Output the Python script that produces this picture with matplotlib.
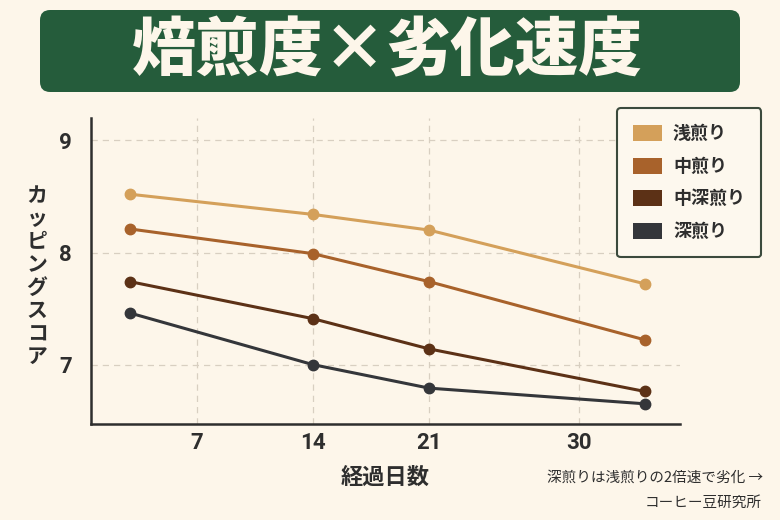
import matplotlib
matplotlib.use("Agg")
import matplotlib.pyplot as plt
from matplotlib.patches import FancyBboxPatch, Patch

plt.rcParams['font.family'] = ['Noto Sans CJK JP', 'DejaVu Sans']

# data
days = [3, 14, 21, 34]
roasts = ["浅煎り", "中煎り", "中深煎り", "深煎り"]
scores = {
    "浅煎り": [8.52, 8.34, 8.20, 7.72],
    "中煎り": [8.21, 7.99, 7.74, 7.22],
    "中深煎り": [7.74, 7.41, 7.14, 6.76],
    "深煎り": [7.46, 7.00, 6.79, 6.65],
}
xticks = [7, 14, 21, 30]
yticks = [7, 8, 9]

colors = {"浅煎り": "#d4a05a", "中煎り": "#a8622b", "中深煎り": "#5c3116", "深煎り": "#34363a"}
bg = "#fdf6ea"
green = "#255c3b"
ink = "#2e2e2e"

fig = plt.figure(figsize=(7.8, 5.2), dpi=100, facecolor=bg)

# title banner
banner = FancyBboxPatch((40 / 780, 1 - 92 / 520), 700 / 780, 82 / 520,
                        boxstyle="round,pad=0,rounding_size=0.013",
                        mutation_aspect=1.5, transform=fig.transFigure,
                        facecolor=green, edgecolor="none")
fig.patches.append(banner)
fig.text(0.497, 1 - 52 / 520, "焙煎度×劣化速度", ha="center", va="center",
         fontsize=46, fontweight="heavy", color=bg)

ax = fig.add_axes([91 / 780, 96 / 520, 589 / 780, 306 / 520])
ax.set_facecolor(bg)

for r in roasts:
    ax.plot(days, scores[r], color=colors[r], lw=2.2, marker="o", ms=7.5,
            solid_capstyle="round", zorder=3)

ax.set_xlim(0.65, 36.1)
ax.set_ylim(6.47, 9.2)
ax.set_xticks(xticks)
ax.set_yticks(yticks)
ax.grid(True, linestyle=(0, (5, 4)), color="#d8cfc1", lw=0.9)
ax.tick_params(length=0, labelsize=16, colors=ink)
for lab in ax.get_xticklabels() + ax.get_yticklabels():
    lab.set_fontweight("bold")
    lab.set_family(["Roboto", "DejaVu Sans"])
ax.tick_params(axis="y", pad=14)
ax.tick_params(axis="x", pad=6)
for s in ["top", "right"]:
    ax.spines[s].set_visible(False)
for s in ["left", "bottom"]:
    ax.spines[s].set_color(ink)
    ax.spines[s].set_linewidth(1.8)

ax.set_xlabel("経過日数", fontsize=16, fontweight="bold", color=ink, labelpad=8)
fig.text(37 / 780, 1 - 276 / 520, "\n".join("カッピングスコア"), ha="center",
         va="center", fontsize=15, fontweight="bold", color=ink, linespacing=1.12)

handles = [Patch(facecolor=colors[r], edgecolor="none", label=r) for r in roasts]
leg = fig.legend(handles=handles, loc="upper left",
                 bbox_to_anchor=(617 / 780, 1 - 108 / 520),
                 prop={"size": 13, "weight": "bold"}, labelcolor=ink,
                 handlelength=1.6, handleheight=1.0, handletextpad=0.6,
                 labelspacing=0.75, borderpad=0.9, borderaxespad=0,
                 frameon=True, fancybox=True)
frame = leg.get_frame()
frame.set_facecolor("#fdf8ee")
frame.set_edgecolor("#3b4a3c")
frame.set_linewidth(1.5)
frame.set_alpha(1)

fig.text(763 / 780, 1 - 478 / 520, "深煎りは浅煎りの2倍速で劣化 →", ha="right",
         va="center", fontsize=10.5, color=ink, family=["Noto Sans CJK JP", "DejaVu Sans"])
fig.text(762 / 780, 1 - 503 / 520, "コーヒー豆研究所", ha="right", va="center",
         fontsize=10.5, color=ink)

fig.savefig("out.png", dpi=100, facecolor=bg)
